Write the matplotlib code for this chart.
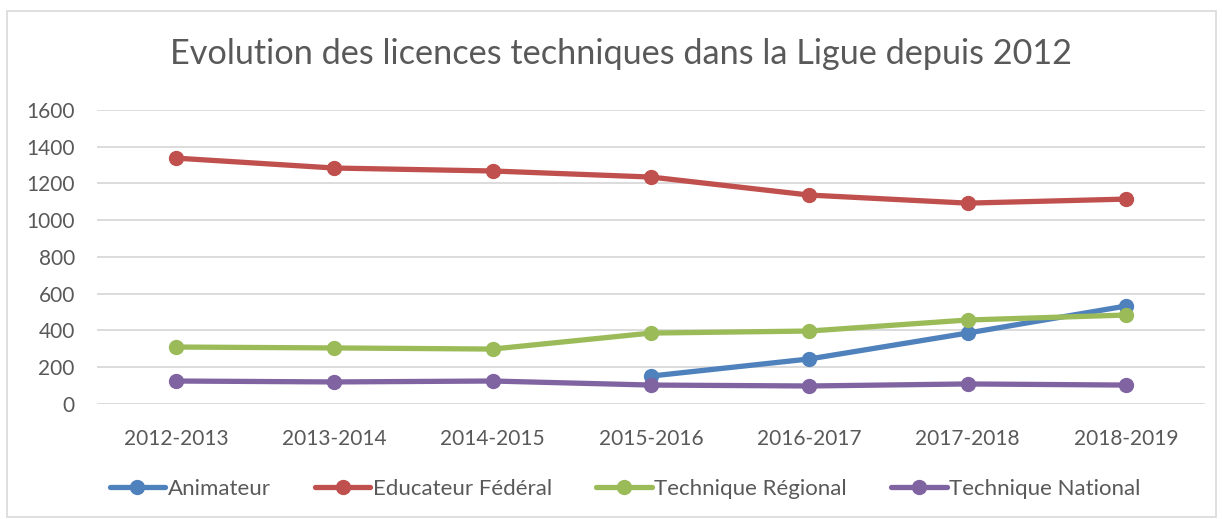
import matplotlib.pyplot as plt
import numpy as np
from matplotlib.patches import Rectangle

plt.rcParams["font.family"] = ["Lato", "DejaVu Sans"]

saisons = ["2012-2013", "2013-2014", "2014-2015", "2015-2016",
           "2016-2017", "2017-2018", "2018-2019"]
animateur = [np.nan, np.nan, np.nan, 152, 245, 386, 533]
educateur_federal = [1338, 1284, 1268, 1235, 1137, 1093, 1115]
technique_regional = [310, 305, 299, 386, 397, 457, 484]
technique_national = [125, 120, 125, 103, 98, 109, 103]

series = [
    ("Animateur", animateur, "#4F81BD"),
    ("Educateur Fédéral", educateur_federal, "#C0504D"),
    ("Technique Régional", technique_regional, "#9BBB59"),
    ("Technique National", technique_national, "#8064A2"),
]

text_color = "#595959"

fig = plt.figure(figsize=(12.23, 5.19), dpi=100)
ax = fig.add_axes([0.0793, 0.2216, 0.906, 0.5665])

x = np.arange(len(saisons))
for label, values, color in series:
    ax.plot(x, values, color=color, linewidth=3.8, marker="o",
            markersize=10, label=label, solid_capstyle="round")

ax.set_xlim(-0.5, len(saisons) - 0.5)
ax.set_ylim(0, 1600)
ax.set_yticks(np.arange(0, 1601, 200))
ax.set_xticks(x)
ax.set_xticklabels(saisons)
ax.tick_params(axis="both", length=0, labelsize=15, labelcolor=text_color)
ax.tick_params(axis="x", pad=18)
ax.tick_params(axis="y", pad=16)
ax.grid(axis="y", color="#D9D9D9", linewidth=1.3)
ax.set_axisbelow(True)
for spine in ax.spines.values():
    spine.set_visible(False)

fig.text(0.508, 0.895, "Evolution des licences techniques dans la Ligue depuis 2012",
         ha="center", va="center", fontsize=24.7, color=text_color)

fig.legend(loc="center", bbox_to_anchor=(0.511, 0.058), ncol=4, frameon=False,
           fontsize=16, labelcolor=text_color, handlelength=2.5,
           handletextpad=0.1, columnspacing=2.0)

fig.patches.append(Rectangle((0.006, 0.004), 0.988, 0.975, transform=fig.transFigure,
                             fill=False, edgecolor="#D9D9D9", linewidth=1.2))

fig.savefig("out.png", dpi=100, facecolor="white")
